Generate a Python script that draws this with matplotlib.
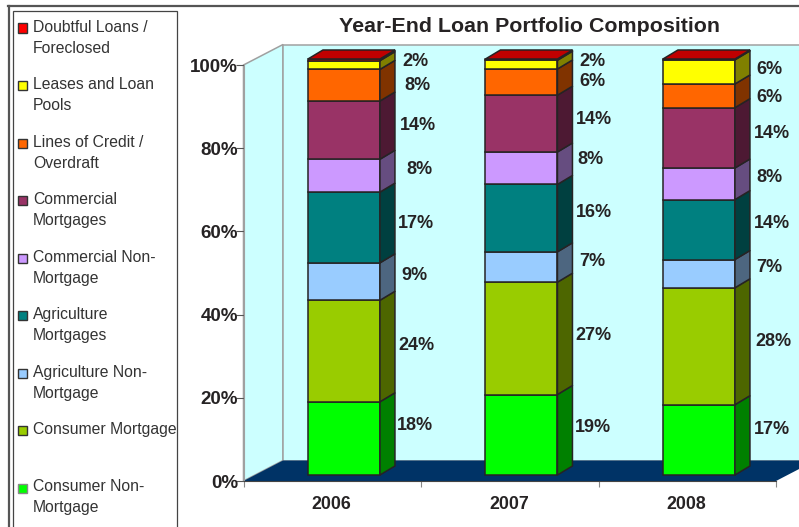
import matplotlib
matplotlib.use("Agg")
import matplotlib.pyplot as plt
from matplotlib.patches import Polygon, Rectangle
from matplotlib.lines import Line2D

plt.rcParams['font.family'] = ['Liberation Sans', 'DejaVu Sans']

# ---- data ----
years = ['2006', '2007', '2008']
series_names = ['Consumer Non-\nMortgage', 'Consumer Mortgage', 'Agriculture Non-\nMortgage',
                'Agriculture\nMortgages', 'Commercial Non-\nMortgage', 'Commercial\nMortgages',
                'Lines of Credit /\nOverdraft', 'Leases and Loan\nPools', 'Doubtful Loans /\nForeclosed']
consumer_non_mortgage = [17.6, 19.35, 16.9]
consumer_mortgage = [24.4, 27.0, 28.1]
agriculture_non_mortgage = [9.0, 7.3, 6.8]
agriculture_mortgages = [17.0, 16.2, 14.4]
commercial_non_mortgage = [7.9, 7.8, 7.6]
commercial_mortgages = [14.0, 13.65, 14.5]
lines_of_credit = [7.6, 6.3, 5.7]
leases = [2.1, 2.1, 5.8]
doubtful = [0.4, 0.3, 0.2]
series = [consumer_non_mortgage, consumer_mortgage, agriculture_non_mortgage, agriculture_mortgages,
          commercial_non_mortgage, commercial_mortgages, lines_of_credit, leases, doubtful]
label_text = [['18%', '24%', '9%', '17%', '8%', '14%', '8%', '2%'],
              ['19%', '27%', '7%', '16%', '8%', '14%', '6%', '2%'],
              ['17%', '28%', '7%', '14%', '8%', '14%', '6%', '6%']]

# ---- styles ----
front = ['#00FF00', '#99CC00', '#99CCFF', '#008080', '#CC99FF', '#993366', '#FF6600', '#FFFF00', '#FF0000']
side = ['#008000', '#4D6600', '#4D6680', '#004040', '#664D80', '#4D1933', '#803300', '#808000', '#800000']
ink = '#262324'
W, H = 799, 527
# label anchors, figure pixels
label_xy = [[(415, 426), (416, 345), (414, 276), (416, 224), (419, 170), (418, 125), (417, 86), (415, 61)],
            [(593, 427), (593, 336), (592, 261), (594, 212), (590, 160), (594, 119), (592, 82), (592, 62)],
            [(772, 429), (773, 342), (769, 267), (772, 223), (769, 178), (772, 134), (769, 97), (769, 70)]]
legend_y = [488, 430, 373, 315, 258, 200, 143, 85, 28]
legend_text_y = [479, 422, 365, 307, 250, 192, 135, 77, 20]
legend_edge = ['#888888'] + ['#333333'] * 8

fig = plt.figure(figsize=(W / 100, H / 100), dpi=100, facecolor='white')
ax_l, ax_r, ax_b, ax_t = 243.5, 776, 481, 65
ax = fig.add_axes([ax_l / W, 1 - ax_b / H, (ax_r - ax_l) / W, (ax_b - ax_t) / H])
ax.set_xlim(0, 3)
ax.set_ylim(0, 100)
ax.patch.set_visible(False)
ppx = (ax_r - ax_l) / 3      # pixels per category
ppy = (ax_b - ax_t) / 100    # pixels per percent


def fx(px):
    return px / W


def fy(py):
    return 1 - py / H


# outer frame + legend box
fig.add_artist(Line2D([fx(8.5), fx(8.5)], [0, fy(6)], color='#555555', lw=1.6))
fig.add_artist(Line2D([fx(8), 1], [fy(6), fy(6)], color='#555555', lw=1.6))
fig.add_artist(Rectangle((fx(13.3), -0.01), fx(177.3 - 13.3), fy(10.5) + 0.01, transform=fig.transFigure,
                         fc='white', ec='#444444', lw=0.9))

# walls and floor
Dx, Dy = 39.5 / ppx, 20.5 / ppy
wall_ec = '#A0A0A0'
ax.add_patch(Polygon([(0, 0), (0, 100), (Dx, 100 + Dy), (Dx, Dy)], closed=True, fc='#CCFFFF', ec=wall_ec,
                     lw=1.1, clip_on=False, zorder=1))
ax.add_patch(Rectangle((Dx, Dy), 3, 100, fc='#CCFFFF', ec=wall_ec, lw=1.1, clip_on=False, zorder=1))
ax.add_patch(Polygon([(0, 0), (3, 0), (3 + Dx, Dy), (Dx, Dy)], closed=True, fc='#003366', ec='none',
                     clip_on=False, zorder=1.5))

# stacked 3-D bars
bw = 72 / ppx
sx, sy = 11.7 / ppx, 6 / ppy
bx, by = 15 / ppx, 9 / ppy
for i in range(len(years)):
    x0 = i + 0.5 + sx
    left, right = x0 - bw / 2, x0 + bw / 2
    bottom = sy
    for k, vals in enumerate(series):
        v = vals[i]
        ax.bar(x0, v, bw, bottom=bottom, color=front[k], edgecolor=ink, linewidth=1.1, clip_on=False, zorder=3)
        ax.add_patch(Polygon([(right, bottom), (right, bottom + v), (right + bx, bottom + v + by),
                              (right + bx, bottom + by)], closed=True, fc=side[k], ec=ink, lw=1.1,
                             clip_on=False, zorder=3))
        bottom += v
    ax.add_patch(Polygon([(left, bottom), (right, bottom), (right + bx, bottom + by), (left + bx, bottom + by)],
                         closed=True, fc='#C00000', ec=ink, lw=1.1, clip_on=False, zorder=3))

# axes
for s in ['top', 'right']:
    ax.spines[s].set_visible(False)
ax.spines['left'].set_color(wall_ec)
ax.spines['bottom'].set_color('#444444')
ax.spines['left'].set_zorder(2)
ax.spines['bottom'].set_zorder(2)
ax.set_yticks(range(0, 101, 20))
ax.set_yticklabels([f'{v}%' for v in range(0, 101, 20)], fontsize=13.5, fontweight='bold', color=ink)
ax.tick_params(axis='y', length=5.5, width=0.8, color='#555555', pad=-1.5)
ax.set_xticks(range(4))
ax.set_xticklabels([])
ax.tick_params(axis='x', which='major', length=4.5, width=0.8, color='#888888')
ax.set_xticks([0.493, 1.495, 2.493], minor=True)
ax.set_xticklabels(years, minor=True, fontsize=12.8, fontweight='bold', color=ink)
ax.tick_params(axis='x', which='minor', length=0, pad=11)

# data labels
for i in range(len(years)):
    for txt, (px, py) in zip(label_text[i], label_xy[i]):
        fig.text(fx(px), fy(py), txt, fontsize=13, fontweight='bold', color=ink, ha='center', va='center',
                 zorder=6)

# title
fig.text(fx(529.5), fy(26.5), 'Year-End Loan Portfolio Composition', fontsize=15.4, fontweight='bold',
         color=ink, ha='center', va='center')

# legend
for k, name in enumerate(series_names):
    y = legend_y[k]
    fig.add_artist(Rectangle((fx(17.5), fy(y + 4.5)), 9 / W, 9 / H, transform=fig.transFigure, fc=front[k],
                             ec=legend_edge[k], lw=1.0))
    fig.text(fx(33), fy(legend_text_y[k]), name, fontsize=11.3, color='#333333', ha='left', va='top',
             linespacing=1.48)

fig.savefig('out.png', dpi=100, facecolor='white')
